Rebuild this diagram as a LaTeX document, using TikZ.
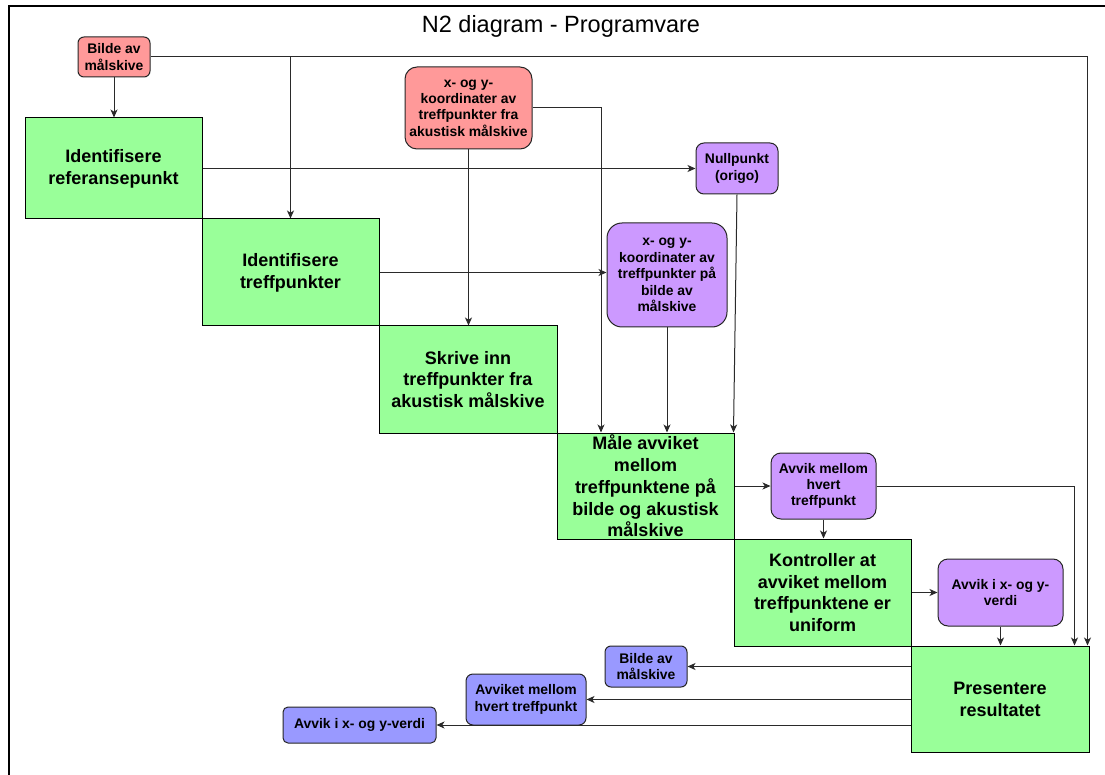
\documentclass[tikz,border=0pt]{standalone}
\usepackage{fontspec}
\setmainfont{Liberation Sans}
\usetikzlibrary{arrows.meta}

\definecolor{stepgreen}{HTML}{99FF99}
\definecolor{inred}{HTML}{FF9999}
\definecolor{midpurple}{HTML}{CC99FF}
\definecolor{outblue}{HTML}{9999FF}
\definecolor{wire}{HTML}{2A2A2A}

\tikzset{
  sz/.style 2 args={minimum width=#1, minimum height=#2},
  func/.style={draw=black, line width=1pt, fill=stepgreen, align=center, inner sep=0pt,
    font=\fontsize{18}{21.8}\selectfont\bfseries},
  data/.style={draw=black!85, line width=1pt, align=center, inner sep=0pt,
    font=\fontsize{13.9}{16.4}\selectfont\bfseries},
  inbox/.style={data, fill=inred},
  midbox/.style={data, fill=midpurple},
  outbox/.style={data, fill=outblue},
  flow/.style={draw=wire, line width=1pt, -{Stealth[length=8pt,width=7pt,inset=2.2pt]}},
}

\begin{document}
\begin{tikzpicture}[x=1pt,y=-1pt]
\useasboundingbox (0,0) rectangle (1105,775);

% frame and title
\draw[line width=1.5pt] (9,775) -- (9,6) -- (1105,6);
\node (title) at (561,26) {\fontsize{23.5}{28}\selectfont N2 diagram - Programvare};

% functions on the diagonal
\node[func, sz={177pt}{101pt}] (g1) at (113.5,168.5) {Identifisere\\referansepunkt};
\node[func, sz={177pt}{107pt}] (g2) at (290.5,272.5) {Identifisere\\treffpunkter};
\node[func, sz={178pt}{107pt}] (g3) at (468,379.5) {Skrive inn\\treffpunkter fra\\akustisk målskive};
\node[func, sz={177pt}{106pt}] (g4) at (645.5,486) {Måle avviket\\mellom\\treffpunktene på\\bilde og akustisk\\målskive};
\node[func, sz={177pt}{107pt}] (g5) at (822.5,592.5) {Kontroller at\\avviket mellom\\treffpunktene er\\uniform};
\node[func, sz={178pt}{106pt}] (g6) at (1000,699) {Presentere\\resultatet};

% external inputs
\node[inbox, rounded corners=6pt, sz={72pt}{40pt}] (r1) at (114,57) {Bilde av\\målskive};
\node[inbox, rounded corners=12pt, sz={127pt}{82pt}] (r2) at (468.5,108) {x- og y-\\koordinater av\\treffpunkter fra\\akustisk målskive};

% intermediate data
\node[midbox, rounded corners=8pt, sz={82pt}{51pt}] (p1) at (737,168.5) {Nullpunkt\\(origo)};
\node[midbox, rounded corners=15pt, sz={120pt}{104pt}] (p2) at (667,275) {x- og y-\\koordinater av\\treffpunkter på\\bilde av\\målskive};
\node[midbox, rounded corners=10pt, sz={105pt}{66pt}] (p3) at (823.5,486) {Avvik mellom\\hvert\\treffpunkt};
\node[midbox, rounded corners=10pt, sz={125pt}{67pt}] (p4) at (1000.5,592.5) {Avvik i x- og y-\\verdi};

% outputs
\node[outbox, rounded corners=6pt, sz={82pt}{41pt}] (b1) at (646,666.5) {Bilde av\\målskive};
\node[outbox, rounded corners=7pt, sz={120pt}{51pt}] (b2) at (526,699.5) {Avviket mellom\\hvert treffpunkt};
\node[outbox, rounded corners=5pt, sz={153pt}{36pt}] (b3) at (359.5,725) {Avvik i x- og y-verdi};

% connectors
\draw[flow] (r1.south) -- (r1.south |- g1.north);
\draw[flow] (r1.east) -| ([xshift=-2pt]g6.north east);
\draw[flow] (r1.east -| g2.north) -- (g2.north);
\draw[flow] (g1.east) -- (p1.west);
\draw[flow] (r2.south) -- (r2.south |- g3.north);
\draw[flow] (r2.east) -| ([xshift=-44.5pt]g4.north);
\draw[flow] (g2.east) -- (g2.east -| p2.west);
\draw[flow] (p2.south) -- (p2.south |- g4.north);
\draw[flow] (p1.south) -- ([xshift=-1pt]g4.north east);
\draw[flow] (g4.east) -- (p3.west);
\draw[flow] (p3.east) -| ([xshift=-15pt]g6.north east);
\draw[flow] (p3.south) -- (p3.south |- g5.north);
\draw[flow] (g5.east) -- (p4.west);
\draw[flow] (p4.south) -- (p4.south |- g6.north);
\draw[flow] (g6.west |- b1.east) -- (b1.east);
\draw[flow] (g6.west |- b2.east) -- (b2.east);
\draw[flow] (g6.west |- b3.east) -- (b3.east);
\end{tikzpicture}
\end{document}
